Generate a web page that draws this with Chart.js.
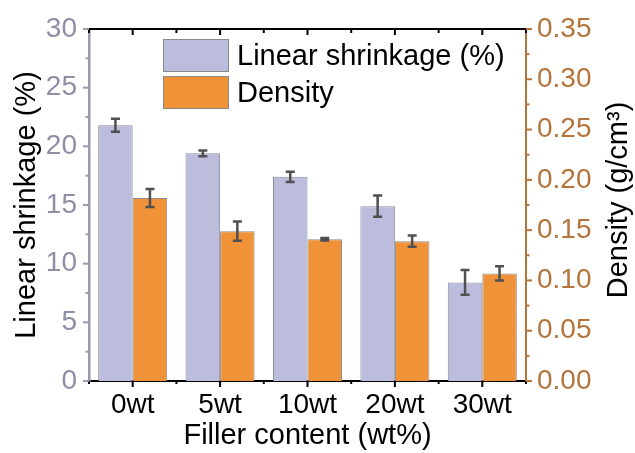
<!DOCTYPE html>
<html>
<head>
<meta charset="utf-8">
<script src="https://cdn.jsdelivr.net/npm/chart.js@4.4.1/dist/chart.umd.min.js"></script>
<style>
  html, body { margin: 0; padding: 0; background: #fff; }
  #wrap { width: 635px; height: 453px; }
</style>
</head>
<body>
<div id="wrap"><canvas id="chart" width="635" height="453"></canvas></div>
<script>
const categories = ["0wt", "5wt", "10wt", "20wt", "30wt"];
const shrinkage = [21.8, 19.4, 17.4, 14.9, 8.4];
const shrinkageErr = [0.55, 0.25, 0.43, 0.9, 1.05];
const density = [0.182, 0.149, 0.141, 0.139, 0.107];
const densityErr = [0.009, 0.0095, 0.0012, 0.0056, 0.007];

const FONT = "'Liberation Sans', Arial, sans-serif";
const leftCol = "#8e8ea6";
const leftAxis = "#9898b0";
const rightCol = "#b5743a";

// error bars drawn from each bar's own scale
const errorBars = {
    id: "errorBars",
    afterDatasetsDraw(chart) {
        const ctx = chart.ctx;
        chart.data.datasets.forEach((ds, i) => {
            const meta = chart.getDatasetMeta(i);
            const sc = chart.scales[meta.yAxisID];
            meta.data.forEach((bar, j) => {
                const v = ds.data[j], e = ds.err[j];
                const yt = sc.getPixelForValue(v + e), yb = sc.getPixelForValue(v - e);
                ctx.save();
                ctx.strokeStyle = "#505050";
                ctx.lineWidth = 2.5;
                ctx.beginPath();
                ctx.moveTo(bar.x, yt); ctx.lineTo(bar.x, yb);
                ctx.moveTo(bar.x - 4.5, yt); ctx.lineTo(bar.x + 4.5, yt);
                ctx.moveTo(bar.x - 4.5, yb); ctx.lineTo(bar.x + 4.5, yb);
                ctx.stroke();
                ctx.restore();
            });
        });
    }
};

// frame, ticks (major + minor), right title and legend
const decor = {
    id: "decor",
    afterDraw(chart) {
        const ctx = chart.ctx, a = chart.chartArea;
        const x = chart.scales.x, y = chart.scales.y, y1 = chart.scales.y1;
        ctx.save();
        // top frame line
        ctx.strokeStyle = "#000"; ctx.lineWidth = 2;
        ctx.beginPath(); ctx.moveTo(a.left, a.top); ctx.lineTo(a.right, a.top); ctx.stroke();

        // x ticks bottom (outward) and top (inward)
        ctx.lineWidth = 2;
        const step = x.width / categories.length;
        for (let k = 0; k <= categories.length; k++) {
            const px = a.left + k * step;
            ctx.beginPath(); ctx.moveTo(px, a.bottom); ctx.lineTo(px, a.bottom + 3); ctx.stroke();
            ctx.beginPath(); ctx.moveTo(px, a.top); ctx.lineTo(px, a.top + 4); ctx.stroke();
        }
        categories.forEach((c, k) => {
            const px = x.getPixelForValue(k);
            ctx.beginPath(); ctx.moveTo(px, a.bottom); ctx.lineTo(px, a.bottom + 6); ctx.stroke();
            ctx.beginPath(); ctx.moveTo(px, a.top); ctx.lineTo(px, a.top + 6); ctx.stroke();
        });

        // left ticks
        ctx.strokeStyle = leftAxis; ctx.lineWidth = 2;
        for (let v = 0; v <= 30.001; v += 2.5) {
            const py = y.getPixelForValue(v);
            const len = Math.abs(v % 5) < 0.01 ? 6 : 3.5;
            ctx.beginPath(); ctx.moveTo(a.left, py); ctx.lineTo(a.left - len, py); ctx.stroke();
        }
        // right ticks
        ctx.strokeStyle = rightCol;
        for (let k = 0; k <= 14; k++) {
            const py = y1.getPixelForValue(k * 0.025);
            const len = k % 2 === 0 ? 6 : 3.5;
            ctx.beginPath(); ctx.moveTo(a.right, py); ctx.lineTo(a.right + len, py); ctx.stroke();
        }

        // right axis title, reading bottom to top
        ctx.fillStyle = "#000";
        ctx.font = "29px " + FONT;
        ctx.textAlign = "center"; ctx.textBaseline = "middle";
        ctx.translate(619, (a.top + a.bottom) / 2 - 5);
        ctx.rotate(-Math.PI / 2);
        ctx.fillText("Density (g/cm³)", 0, 0);
        ctx.restore();

        // legend
        ctx.save();
        ctx.font = "29px " + FONT;
        ctx.textBaseline = "middle";
        chart.data.datasets.forEach((ds, i) => {
            const by = 39 + i * 37;
            ctx.fillStyle = ds.backgroundColor;
            ctx.fillRect(163, by, 66, 33);
            ctx.strokeStyle = "#8a8a8a"; ctx.lineWidth = 1;
            ctx.strokeRect(163.5, by + 0.5, 65, 32);
            ctx.fillStyle = "#000";
            ctx.fillText(ds.label, 237, by + 18);
        });
        ctx.restore();
    }
};

new Chart(document.getElementById("chart"), {
    type: "bar",
    data: {
        labels: categories,
        datasets: [
            { label: "Linear shrinkage (%)", data: shrinkage, err: shrinkageErr, yAxisID: "y",
              backgroundColor: "#bcbddd", borderColor: "#8c8c9a", borderWidth: 1,
              categoryPercentage: 0.79, barPercentage: 1 },
            { label: "Density", data: density, err: densityErr, yAxisID: "y1",
              backgroundColor: "#f09238", borderColor: "#8c8c8c", borderWidth: 1,
              categoryPercentage: 0.79, barPercentage: 1 }
        ]
    },
    options: {
        responsive: false,
        animation: false,
        layout: { padding: { top: 29, left: 0, right: 0, bottom: 0 } },
        plugins: { legend: { display: false }, tooltip: { enabled: false } },
        scales: {
            x: {
                grid: { display: false, drawTicks: false },
                border: { display: true, color: "#000", width: 2 },
                ticks: { color: "#000", font: { family: FONT, size: 28 }, padding: 7 },
                title: { display: true, text: "Filler content (wt%)", color: "#000",
                         font: { family: FONT, size: 29 }, padding: { top: 0, bottom: 0 } },
                afterFit: s => { s.height = 72; }
            },
            y: {
                position: "left", min: 0, max: 30,
                grid: { display: false, drawTicks: false },
                border: { display: true, color: leftAxis, width: 2.5 },
                ticks: { stepSize: 5, color: leftCol, font: { family: FONT, size: 28 }, padding: 12 },
                title: { display: true, text: "Linear shrinkage (%)", color: "#000",
                         font: { family: FONT, size: 29 }, padding: { top: 10, bottom: 0 } },
                afterFit: s => { s.width = 89; }
            },
            y1: {
                position: "right", min: 0, max: 0.35,
                grid: { display: false, drawTicks: false },
                border: { display: true, color: rightCol, width: 2 },
                ticks: { stepSize: 0.05, color: rightCol, font: { family: FONT, size: 28 }, padding: 11,
                         callback: v => v.toFixed(2) },
                afterFit: s => { s.width = 109; }
            }
        }
    },
    plugins: [errorBars, decor]
});
</script>
</body>
</html>
